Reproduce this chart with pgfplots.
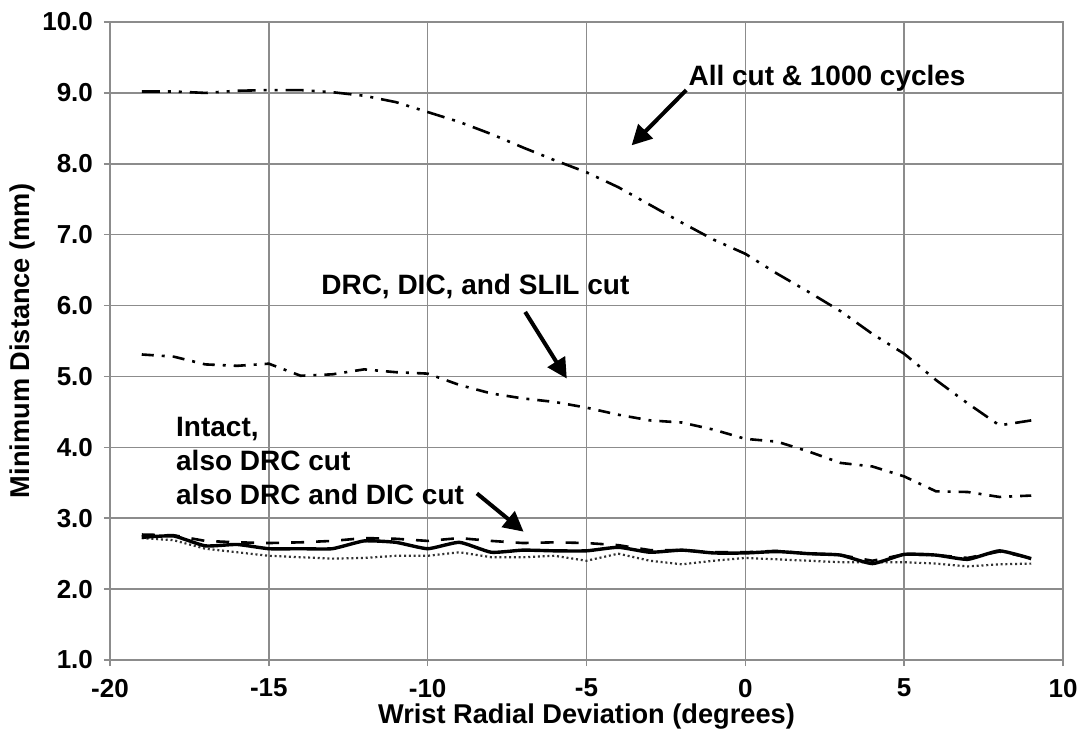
\documentclass[border=0pt]{standalone}
\usepackage{fontspec}
\setmainfont{Liberation Sans}
\usepackage{pgfplots}
\pgfplotsset{compat=1.18}
\usetikzlibrary{arrows.meta}
\begin{document}
\begin{tikzpicture}
\useasboundingbox (-55pt,-42.5pt) rectangle (489pt,330pt);
\begin{axis}[
  at={(0,0)}, anchor=south west,
  width=476.5pt, height=319pt, scale only axis,
  xmin=-20, xmax=10, ymin=1, ymax=10,
  xtick={-20,-15,...,10}, ytick={1,2,...,10},
  grid=major,
  major grid style={draw=black!45, line width=0.8pt},
  axis line style={draw=black!45, line width=0.8pt},
  tick style={draw=black!45, line width=0.8pt},
  tick align=outside, major tick length=3pt,
  xtick pos=bottom, ytick pos=left,
  /pgf/number format/assume math mode=true,
  ticklabel style={font=\fontsize{13}{15}\selectfont\bfseries},
  yticklabel style={/pgf/number format/fixed, /pgf/number format/fixed zerofill, /pgf/number format/precision=1, xshift=-2pt},
  xticklabel style={yshift=-3pt},
  xlabel={Wrist Radial Deviation (degrees)},
  ylabel={Minimum Distance (mm)},
  label style={font=\fontsize{13.6}{16}\selectfont\bfseries},
  xlabel style={at={(axis description cs:0.5,-0.0893)}, anchor=center},
  ylabel style={at={(axis description cs:-0.0923,0.5)}, anchor=center, rotate=0},
  clip=false,
]
% All cut & 1000 cycles
\addplot[black, line width=1.3pt, dash pattern=on 9pt off 4pt on 1.5pt off 4pt on 1.5pt off 4pt] coordinates {
(-19,9.02) (-18,9.02) (-17,9.00) (-16,9.03) (-15,9.04) (-14,9.04) (-13,9.01) (-12,8.96) (-11,8.87) (-10,8.73)
(-9,8.59) (-8,8.42) (-7,8.23) (-6,8.05) (-5,7.88) (-4,7.67) (-3,7.42) (-2,7.17) (-1,6.93) (0,6.73)
(1,6.45) (2,6.19) (3,5.92) (4,5.60) (5,5.32) (6,4.95) (7,4.62) (8,4.31) (9,4.38)};
% DRC, DIC, and SLIL cut
\addplot[black, line width=1.3pt, dash pattern=on 6pt off 4pt on 1.5pt off 4pt] coordinates {
(-19,5.31) (-18,5.28) (-17,5.17) (-16,5.15) (-15,5.18) (-14,5.01) (-13,5.03) (-12,5.10) (-11,5.06) (-10,5.04)
(-9,4.88) (-8,4.76) (-7,4.69) (-6,4.64) (-5,4.56) (-4,4.46) (-3,4.38) (-2,4.35) (-1,4.25) (0,4.12)
(1,4.08) (2,3.94) (3,3.78) (4,3.73) (5,3.59) (6,3.38) (7,3.37) (8,3.30) (9,3.32)};
% dotted
\addplot[black!80, line width=1.1pt, dash pattern=on 1pt off 1.4pt] coordinates {
(-19,2.72) (-18,2.69) (-17,2.57) (-16,2.52) (-15,2.47) (-14,2.45) (-13,2.43) (-12,2.44) (-11,2.47) (-10,2.47)
(-9,2.52) (-8,2.45) (-7,2.45) (-6,2.47) (-5,2.40) (-4,2.50) (-3,2.40) (-2,2.35) (-1,2.40) (0,2.44)
(1,2.42) (2,2.40) (3,2.38) (4,2.38) (5,2.38) (6,2.36) (7,2.32) (8,2.35) (9,2.36)};
% dashed
\addplot[black, line width=1.3pt, dash pattern=on 6.5pt off 6pt] coordinates {
(-19,2.77) (-18,2.76) (-17,2.68) (-16,2.66) (-15,2.65) (-14,2.66) (-13,2.68) (-12,2.72) (-11,2.71) (-10,2.68)
(-9,2.72) (-8,2.68) (-7,2.65) (-6,2.66) (-5,2.65) (-4,2.62) (-3,2.55) (-2,2.55) (-1,2.52) (0,2.52)
(1,2.54) (2,2.50) (3,2.48) (4,2.40) (5,2.49) (6,2.48) (7,2.44) (8,2.53) (9,2.44)};
% solid
\addplot[black, line width=1.7pt, smooth, tension=0.3] coordinates {
(-19,2.73) (-18,2.75) (-17,2.61) (-16,2.63) (-15,2.57) (-14,2.57) (-13,2.57) (-12,2.68) (-11,2.66) (-10,2.57)
(-9,2.66) (-8,2.52) (-7,2.55) (-6,2.54) (-5,2.54) (-4,2.59) (-3,2.52) (-2,2.55) (-1,2.51) (0,2.51)
(1,2.53) (2,2.50) (3,2.48) (4,2.36) (5,2.49) (6,2.48) (7,2.42) (8,2.54) (9,2.43)};
% annotations
\node[anchor=west, font=\fontsize{14}{16}\selectfont\bfseries, inner sep=0pt] at (axis cs:-1.8,9.21) {All cut \& 1000 cycles};
\draw[line width=2pt, -{Triangle[length=10pt,width=10pt]}] (axis cs:-1.86,9.04) -- (axis cs:-3.58,8.26);
\node[anchor=west, font=\fontsize{14}{16}\selectfont\bfseries, inner sep=0pt] at (axis cs:-13.36,6.27) {DRC, DIC, and SLIL cut};
\draw[line width=2pt, -{Triangle[length=10pt,width=10pt]}] (axis cs:-6.93,5.91) -- (axis cs:-5.62,4.97);
\node[anchor=north west, align=left, font=\fontsize{14}{17}\selectfont\bfseries, inner sep=0pt] at (axis cs:-17.93,4.43) {Intact,\\also DRC cut\\also DRC and DIC cut};
\draw[line width=2pt, -{Triangle[length=10pt,width=10pt]}] (axis cs:-8.45,3.35) -- (axis cs:-6.98,2.81);
\end{axis}
\end{tikzpicture}
\end{document}
